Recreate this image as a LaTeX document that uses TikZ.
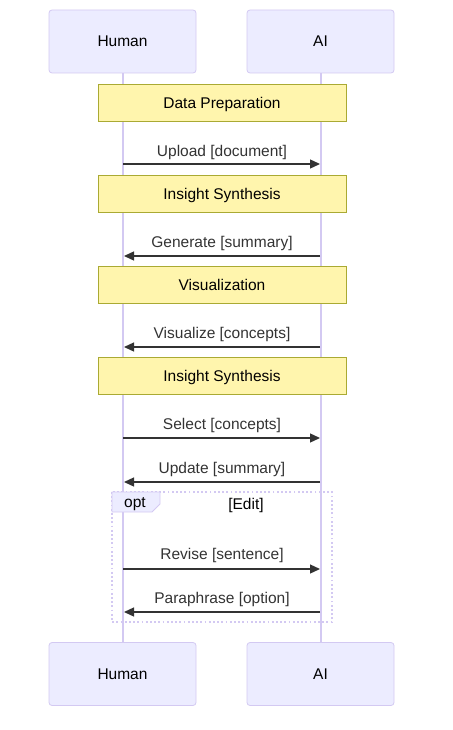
\documentclass[tikz,border=0pt]{standalone}
\usepackage{fontspec}
\setmainfont{Liberation Sans}
\usetikzlibrary{arrows.meta}
\definecolor{actfill}{HTML}{ECECFF}
\definecolor{actline}{HTML}{D3C9F2}
\definecolor{notefill}{HTML}{FFF5AD}
\definecolor{noteline}{HTML}{AAAA33}
\definecolor{msg}{HTML}{333333}
\begin{document}
\begin{tikzpicture}[x=1pt,y=-1pt,
  actor/.style={draw=actline,fill=actfill,rounded corners=3pt,line width=0.8pt,minimum width=147pt,minimum height=63pt,font=\fontsize{15.5}{18}\selectfont,inner sep=0pt,text depth=-1.5pt},
  notebox/.style={draw=noteline,fill=notefill,line width=0.8pt,minimum width=248pt,minimum height=37pt,font=\fontsize{15.5}{18}\selectfont,inner sep=0pt,text depth=-1.5pt},
  life/.style={draw=actline,line width=1.6pt},
  msgarrow/.style={draw=msg,line width=1.3pt,-{Triangle[length=10pt,width=9pt]}},
  msglabel/.style={font=\fontsize{15.5}{18}\selectfont,text=msg,inner sep=0pt},
  optframe/.style={draw=actline,line width=1.8pt,dash pattern=on 1.8pt off 2.4pt}
]
\useasboundingbox (0,0) rectangle (452,730);
% lifelines
\coordinate (hT) at (123,73);
\coordinate (hB) at (123,642);
\coordinate (aT) at (321,73);
\coordinate (aB) at (321,642);
\draw[life] (hT) -- (hB);
\draw[life] (aT) -- (aB);
% actors
\node[actor] (h1) at (122.5,41.5) {Human};
\node[actor] (a1) at (320.5,41.5) {AI};
\node[actor] (h2) at (122.5,674) {Human};
\node[actor] (a2) at (320.5,674) {AI};
% notes
\node[notebox] (n1) at (222,102.5) {Data Preparation};
\node[notebox] (n2) at (222,193.5) {Insight Synthesis};
\node[notebox] (n3) at (222,284.5) {Visualization};
\node[notebox] (n4) at (222,375.5) {Insight Synthesis};
% message coordinates
\foreach \n/\y in {1/164,2/256,3/347,4/438,5/482,6/569,7/612}{
  \coordinate (h\n) at (123,\y);
  \coordinate (a\n) at (320,\y);
}
\coordinate (hh2) at (124,256);\coordinate (hh3) at (124,347);\coordinate (hh5) at (124,482);\coordinate (hh7) at (124,612);
\draw[msgarrow] (h1) -- (a1);
\draw[msgarrow] (a2) -- (hh2);
\draw[msgarrow] (a3) -- (hh3);
\draw[msgarrow] (h4) -- (a4);
\draw[msgarrow] (a5) -- (hh5);
\draw[msgarrow] (h6) -- (a6);
\draw[msgarrow] (a7) -- (hh7);
\node[msglabel] (l1) at (222,152.5) {Upload [document]};
\node[msglabel] (l2) at (222,243.5) {Generate [summary]};
\node[msglabel] (l3) at (222,334.5) {Visualize [concepts]};
\node[msglabel] (l4) at (222,425.5) {Select [concepts]};
\node[msglabel] (l5) at (222,469.5) {Update [summary]};
\node[msglabel] (l6) at (222,555.5) {Revise [sentence]};
\node[msglabel] (l7) at (222,599.5) {Paraphrase [option]};
% opt frame
\draw[optframe] (112,492) rectangle (332,622);
\path[fill=actfill,draw=actline,line width=0.8pt] (112,492) -- (160,492) -- (160,504) -- (152,512) -- (112,512) -- cycle;
\node[msglabel,text=black] (opt) at (135,504) {opt};
\node[msglabel,text=black] (edit) at (246,505) {[Edit]};
\end{tikzpicture}
\end{document}
